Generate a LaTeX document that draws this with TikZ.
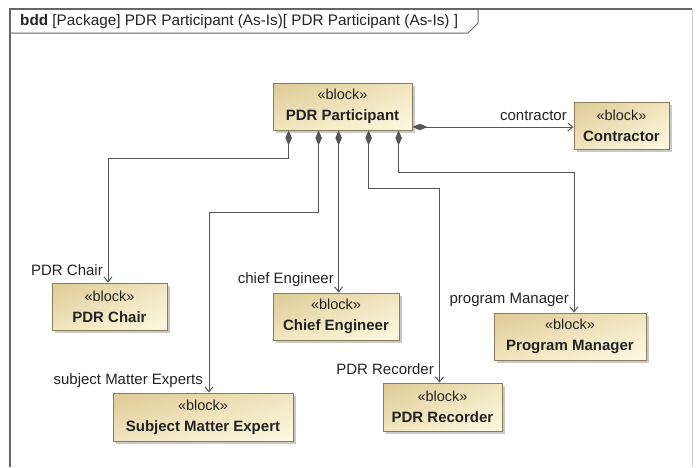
\documentclass[tikz,border=0pt]{standalone}
\usepackage{fontspec}
\setmainfont{Liberation Sans}
\usetikzlibrary{arrows.meta,shadows,shadings}
\definecolor{bdark}{RGB}{222,202,148}
\definecolor{bmid}{RGB}{240,229,190}
\definecolor{blight}{RGB}{253,249,226}
\definecolor{bedge}{RGB}{140,124,88}
\definecolor{lnk}{RGB}{85,85,85}
\definecolor{txt}{RGB}{35,35,35}
\tikzset{
  blk/.style={draw=bedge, line width=0.8pt, inner sep=0pt, align=center,
    upper left=bdark, upper right=bmid, lower left=bmid, lower right=blight,
    drop shadow={shadow xshift=2.5pt, shadow yshift=-2.5pt, fill=black!35, opacity=0.6},
    font=\fontsize{15}{21}\selectfont, text=txt},
  comp/.style={draw=lnk, line width=1pt,
    {Diamond[length=15pt,width=6.5pt,fill=lnk]}-{Straight Barb[length=5pt,width=8pt]}},
  lbl/.style={anchor=east, inner sep=0pt, font=\fontsize{15}{18}\selectfont, text=txt}
}
\newcommand{\stp}{\fontsize{14.5}{21}\selectfont«block»}
\begin{document}
\begin{tikzpicture}[x=1pt,y=-1pt]
\useasboundingbox (0,0) rectangle (697,467);
\fill[white] (0,0) rectangle (697,467);
% frame
\draw[black!20, line width=1pt] (692,9) -- (692,467);
\draw[black!60, line width=1.2pt] (10,467) -- (10,9) -- (692,9);
\draw[black!60, line width=1pt] (10,33) -- (468,33) -- (478,23) -- (478,9);
\node[anchor=west, inner sep=0pt, font=\fontsize{15.3}{18}\selectfont, text=txt] (title) at (20,21.5)
  {\textbf{bdd} [Package] PDR Participant (As-Is)[ PDR Participant (As-Is) ]};
% blocks
\node[blk, minimum width=139pt, minimum height=47pt] (pp) at (342.5,106.5) {\stp\\\textbf{PDR Participant}};
\node[blk, minimum width=95pt, minimum height=47pt] (con) at (621.5,125.5) {\stp\\\textbf{Contractor}};
\node[blk, minimum width=115pt, minimum height=47pt] (chair) at (109.5,306.5) {\stp\\\textbf{PDR Chair}};
\node[blk, minimum width=180pt, minimum height=48pt] (sme) at (203,417) {\stp\\\textbf{Subject Matter Expert}};
\node[blk, minimum width=126pt, minimum height=47pt] (ce) at (336,316.5) {\stp\\\textbf{Chief Engineer}};
\node[blk, minimum width=152pt, minimum height=47pt] (pm) at (570,336.5) {\stp\\\textbf{Program Manager}};
\node[blk, minimum width=119pt, minimum height=48pt] (rec) at (442.5,407) {\stp\\\textbf{PDR Recorder}};
% start points
\coordinate (s0) at ([yshift=-20.5pt]pp.east);
\coordinate (s1) at ([xshift=16pt]pp.south west);
\coordinate (s2) at ([xshift=46pt]pp.south west);
\coordinate (s3) at ([xshift=66pt]pp.south west);
\coordinate (s4) at ([xshift=96pt]pp.south west);
\coordinate (s5) at ([xshift=126pt]pp.south west);
% connectors
\draw[comp] (s0) -- (s0 -| con.west);
\draw[comp] (s1) -- ++(0,28) -| ([xshift=-1.5pt]chair.north);
\draw[comp] (s2) -- ++(0,82) -| ([xshift=6pt]sme.north);
\draw[comp] (s3) -- (s3 |- ce.north);
\draw[comp] (s4) -- ++(0,58) -| ([xshift=-3pt]rec.north);
\draw[comp] (s5) -- ++(0,42) -| ([xshift=4pt]pm.north);
% role labels
\node[lbl] (l0) at (567,116) {contractor};
\node[lbl] (l1) at (103,270) {PDR Chair};
\node[lbl] (l2) at (203,381) {subject Matter Experts};
\node[lbl] (l3) at (334,280) {chief Engineer};
\node[lbl] (l4) at (434,369) {PDR Recorder};
\node[lbl] (l5) at (569,300) {program Manager};
\end{tikzpicture}
\end{document}
